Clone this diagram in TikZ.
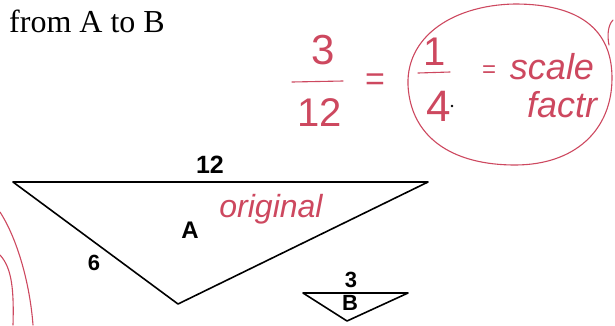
\documentclass[tikz,border=0pt]{standalone}
\usepackage{fontspec}
\setmainfont{Liberation Serif}
\newfontfamily\labfont{Liberation Sans}
\newfontfamily\handfont{Liberation Sans}
\definecolor{pen}{RGB}{205,72,95}
\begin{document}
\begin{tikzpicture}[x=1pt,y=-1pt,
  tri/.style={line width=1.6pt,line join=round},
  lab/.style={font=\labfont\bfseries\fontsize{25}{25}\selectfont,inner sep=0pt},
  hand/.style={text=pen,inner sep=0pt},
  penline/.style={draw=pen,line width=1.1pt,line cap=round}]
\useasboundingbox (0,0) rectangle (615,325);
% title
\node[anchor=base west,inner sep=0pt,font=\fontsize{32}{32}\selectfont] (title) at (9,32) {from A to B};
% triangle A
\coordinate (a1) at (13,182);
\coordinate (a2) at (428,182);
\coordinate (a3) at (178,304);
\draw[tri] (a1) -- (a2) -- (a3) -- cycle;
\node[lab] (l12) at (210,165) {12};
\node[lab,font=\labfont\bfseries\fontsize{22}{22}\selectfont] (l6) at (94,263) {6};
\node[lab,font=\labfont\bfseries\fontsize{24}{24}\selectfont] (lA) at (190,230) {A};
% triangle B
\coordinate (b1) at (303,293);
\coordinate (b2) at (408,293);
\coordinate (b3) at (347,321);
\draw[tri] (b1) -- (b2) -- (b3) -- cycle;
\node[lab,font=\labfont\bfseries\fontsize{22}{22}\selectfont] (l3) at (351,280) {3};
\node[lab,font=\labfont\bfseries\fontsize{22}{22}\selectfont] (lB) at (350,303) {B};
% red annotations
\node[hand,font=\handfont\itshape\fontsize{32}{32}\selectfont] (orig) at (271,209) {original};
\node[hand,font=\handfont\fontsize{42}{42}\selectfont] (n3) at (323,50) {3};
\coordinate (f1a) at (292,82);
\coordinate (f1b) at (343,81);
\draw[penline] (f1a) -- (f1b);
\node[hand,font=\handfont\fontsize{40}{40}\selectfont] (n12) at (320,113) {12};
\node[hand,font=\handfont\fontsize{34}{34}\selectfont] (eq1) at (375,82) {=};
\node[hand,font=\handfont\fontsize{40}{40}\selectfont] (n1) at (435,52) {1};
\coordinate (f2a) at (418,73);
\coordinate (f2b) at (450,72);
\draw[penline] (f2a) -- (f2b);
\node[hand,font=\handfont\fontsize{44}{44}\selectfont] (n4) at (439,106) {4};
\node[hand,font=\handfont\fontsize{24}{24}\selectfont] (eq2) at (489,72) {=};
\node[hand,font=\handfont\itshape\fontsize{36}{36}\selectfont] (scale) at (552,67) {scale};
\node[hand,font=\handfont\itshape\fontsize{36}{36}\selectfont] (fact) at (562,105) {factr};
\coordinate (dot) at (452,106);
\fill (dot) circle (1.3pt);
% ellipse around 1/4 = scale factor
\draw[penline] (409,95) .. controls (400,40) and (450,5) .. (515,4)
  .. controls (580,4) and (612,30) .. (612,78)
  .. controls (612,130) and (575,165) .. (515,165)
  .. controls (455,165) and (416,140) .. (409,95);
\draw[penline] (609,45) .. controls (607,35) and (608,25) .. (613,20);
% arcs at the left edge
\draw[penline] (0,212) .. controls (18,240) and (30,285) .. (33,325);
\draw[penline] (0,255) .. controls (12,268) and (14,290) .. (13,325);
\end{tikzpicture}
\end{document}
